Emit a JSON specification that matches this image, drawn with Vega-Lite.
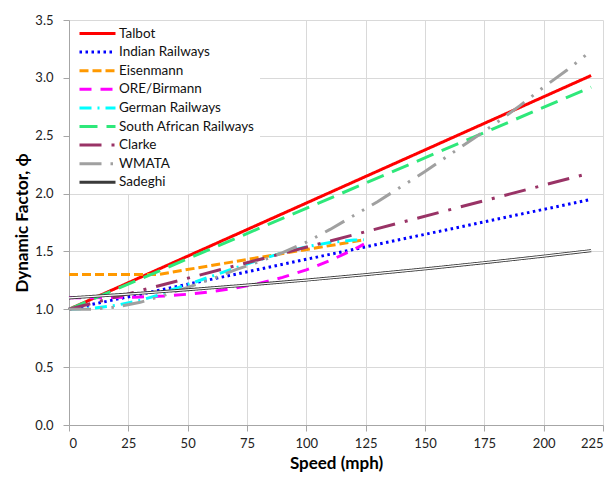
{
  "$schema": "https://vega.github.io/schema/vega-lite/v6.json",
  "width": 534,
  "height": 405,
  "autosize": "none",
  "padding": {"left": 69, "top": 20, "right": 10, "bottom": 54},
  "background": "white",
  "config": {
    "font": "Lato",
    "view": {"stroke": null},
    "axis": {
      "gridColor": "#d9d9d9",
      "gridWidth": 1,
      "domainColor": "#a6a6a6",
      "tickColor": "#a6a6a6",
      "tickSize": 6,
      "labelFont": "Lato",
      "labelFontSize": 13,
      "labelColor": "#222222",
      "titleFont": "Lato",
      "titleFontSize": 17,
      "titleFontWeight": "bold",
      "titleColor": "#000000"
    },
    "legend": {
      "labelFont": "Lato",
      "labelFontSize": 13.5,
      "labelColor": "#111111"
    }
  },
  "data": {
    "values": [
      {"s": "Talbot", "v": 0, "f": 1.0},
      {"s": "Talbot", "v": 220, "f": 3.02},
      {"s": "Indian Railways", "v": 0, "f": 1.0},
      {"s": "Indian Railways", "v": 220, "f": 1.95},
      {"s": "Eisenmann", "v": 0, "f": 1.3},
      {"s": "Eisenmann", "v": 37.3, "f": 1.3},
      {"s": "Eisenmann", "v": 124.3, "f": 1.6},
      {"s": "ORE/Birmann", "v": 0, "f": 1.1},
      {"s": "ORE/Birmann", "v": 10, "f": 1.1002},
      {"s": "ORE/Birmann", "v": 20, "f": 1.102},
      {"s": "ORE/Birmann", "v": 30, "f": 1.1065},
      {"s": "ORE/Birmann", "v": 40, "f": 1.115},
      {"s": "ORE/Birmann", "v": 50, "f": 1.13},
      {"s": "ORE/Birmann", "v": 60, "f": 1.152},
      {"s": "ORE/Birmann", "v": 70, "f": 1.183},
      {"s": "ORE/Birmann", "v": 80, "f": 1.223},
      {"s": "ORE/Birmann", "v": 90, "f": 1.276},
      {"s": "ORE/Birmann", "v": 100, "f": 1.341},
      {"s": "ORE/Birmann", "v": 110, "f": 1.421},
      {"s": "ORE/Birmann", "v": 120, "f": 1.516},
      {"s": "ORE/Birmann", "v": 124.3, "f": 1.563},
      {"s": "German Railways", "v": 0, "f": 1.0},
      {"s": "German Railways", "v": 10, "f": 1.0086},
      {"s": "German Railways", "v": 20, "f": 1.0345},
      {"s": "German Railways", "v": 30, "f": 1.0777},
      {"s": "German Railways", "v": 37.3, "f": 1.12},
      {"s": "German Railways", "v": 40, "f": 1.1465},
      {"s": "German Railways", "v": 50, "f": 1.2134},
      {"s": "German Railways", "v": 60, "f": 1.2847},
      {"s": "German Railways", "v": 70, "f": 1.3565},
      {"s": "German Railways", "v": 80, "f": 1.4256},
      {"s": "German Railways", "v": 90, "f": 1.4881},
      {"s": "German Railways", "v": 100, "f": 1.5402},
      {"s": "German Railways", "v": 110, "f": 1.578},
      {"s": "German Railways", "v": 120, "f": 1.598},
      {"s": "German Railways", "v": 124.3, "f": 1.6},
      {"s": "South African Railways", "v": 0, "f": 1.0},
      {"s": "South African Railways", "v": 220, "f": 2.92},
      {"s": "Clarke", "v": 0, "f": 1.0},
      {"s": "Clarke", "v": 220, "f": 2.18},
      {"s": "WMATA", "v": 0, "f": 1.0},
      {"s": "WMATA", "v": 10, "f": 1.0},
      {"s": "WMATA", "v": 20, "f": 1.02},
      {"s": "WMATA", "v": 30, "f": 1.06},
      {"s": "WMATA", "v": 40, "f": 1.12},
      {"s": "WMATA", "v": 50, "f": 1.19},
      {"s": "WMATA", "v": 60, "f": 1.26},
      {"s": "WMATA", "v": 70, "f": 1.34},
      {"s": "WMATA", "v": 80, "f": 1.41},
      {"s": "WMATA", "v": 90, "f": 1.49},
      {"s": "WMATA", "v": 100, "f": 1.58},
      {"s": "WMATA", "v": 110, "f": 1.69},
      {"s": "WMATA", "v": 120, "f": 1.81},
      {"s": "WMATA", "v": 130, "f": 1.93},
      {"s": "WMATA", "v": 140, "f": 2.06},
      {"s": "WMATA", "v": 150, "f": 2.19},
      {"s": "WMATA", "v": 160, "f": 2.33},
      {"s": "WMATA", "v": 170, "f": 2.47},
      {"s": "WMATA", "v": 180, "f": 2.61},
      {"s": "WMATA", "v": 190, "f": 2.76},
      {"s": "WMATA", "v": 200, "f": 2.92},
      {"s": "WMATA", "v": 210, "f": 3.07},
      {"s": "WMATA", "v": 218, "f": 3.2},
      {"s": "Sadeghi", "v": 0, "f": 1.098},
      {"s": "Sadeghi", "v": 25, "f": 1.1318},
      {"s": "Sadeghi", "v": 50, "f": 1.1689},
      {"s": "Sadeghi", "v": 75, "f": 1.2092},
      {"s": "Sadeghi", "v": 100, "f": 1.2526},
      {"s": "Sadeghi", "v": 125, "f": 1.2994},
      {"s": "Sadeghi", "v": 150, "f": 1.3494},
      {"s": "Sadeghi", "v": 175, "f": 1.4026},
      {"s": "Sadeghi", "v": 200, "f": 1.4591},
      {"s": "Sadeghi", "v": 220, "f": 1.5066}
    ]
  },
  "encoding": {
    "x": {
      "field": "v",
      "type": "quantitative",
      "scale": {"domain": [0, 225], "nice": false},
      "axis": {"values": [0, 25, 50, 75, 100, 125, 150, 175, 200, 225], "title": "Speed (mph)", "labelPadding": 6, "titlePadding": 5}
    },
    "y": {
      "field": "f",
      "type": "quantitative",
      "scale": {"domain": [0, 3.5], "nice": false},
      "axis": {"values": [0, 0.5, 1, 1.5, 2, 2.5, 3, 3.5], "format": ".1f", "title": "Dynamic Factor, ϕ", "labelPadding": 10, "titlePadding": 3}
    }
  },
  "layer": [
    {
      "mark": {"type": "line", "strokeWidth": 3, "strokeCap": "butt"},
      "encoding": {
        "color": {
          "field": "s",
          "type": "nominal",
          "scale": {
            "domain": ["Talbot", "Indian Railways", "Eisenmann", "ORE/Birmann", "German Railways", "South African Railways", "Clarke", "WMATA", "Sadeghi"],
            "range": ["#ff0000", "#0000ff", "#ff9900", "#ff00ff", "#00ffff", "#2ee87a", "#993366", "#a0a0a0", "#3a3a3a"]
          },
          "legend": {
            "title": null,
            "orient": "none",
            "legendX": 1,
            "legendY": 1,
            "padding": 5,
            "fillColor": "white",
            "symbolType": "M-0.5,0H5.5",
            "symbolSize": 144,
            "symbolStrokeWidth": 3,
            "labelOffset": 29,
            "rowPadding": 4.6
          }
        },
        "strokeDash": {
          "field": "s",
          "type": "nominal",
          "scale": {
            "domain": ["Talbot", "Indian Railways", "Eisenmann", "ORE/Birmann", "German Railways", "South African Railways", "Clarke", "WMATA", "Sadeghi"],
            "range": [[1, 0], [2.5, 3.5], [9, 4], [12, 9], [12, 6, 2, 6], [18, 9], [22, 10, 3, 10], [22, 9, 2.5, 9, 2.5, 9], [1, 0]]
          },
          "legend": {
            "title": null,
            "orient": "none",
            "legendX": 1,
            "legendY": 1,
            "padding": 5,
            "fillColor": "white",
            "symbolType": "M-0.5,0H5.5",
            "symbolSize": 144,
            "symbolStrokeWidth": 3,
            "labelOffset": 29,
            "rowPadding": 4.6
          }
        }
      }
    },
    {
      "transform": [{"filter": "datum.s === 'Sadeghi'"}],
      "mark": {"type": "line", "strokeWidth": 1.2, "color": "white"},
      "encoding": {}
    }
  ]
}
